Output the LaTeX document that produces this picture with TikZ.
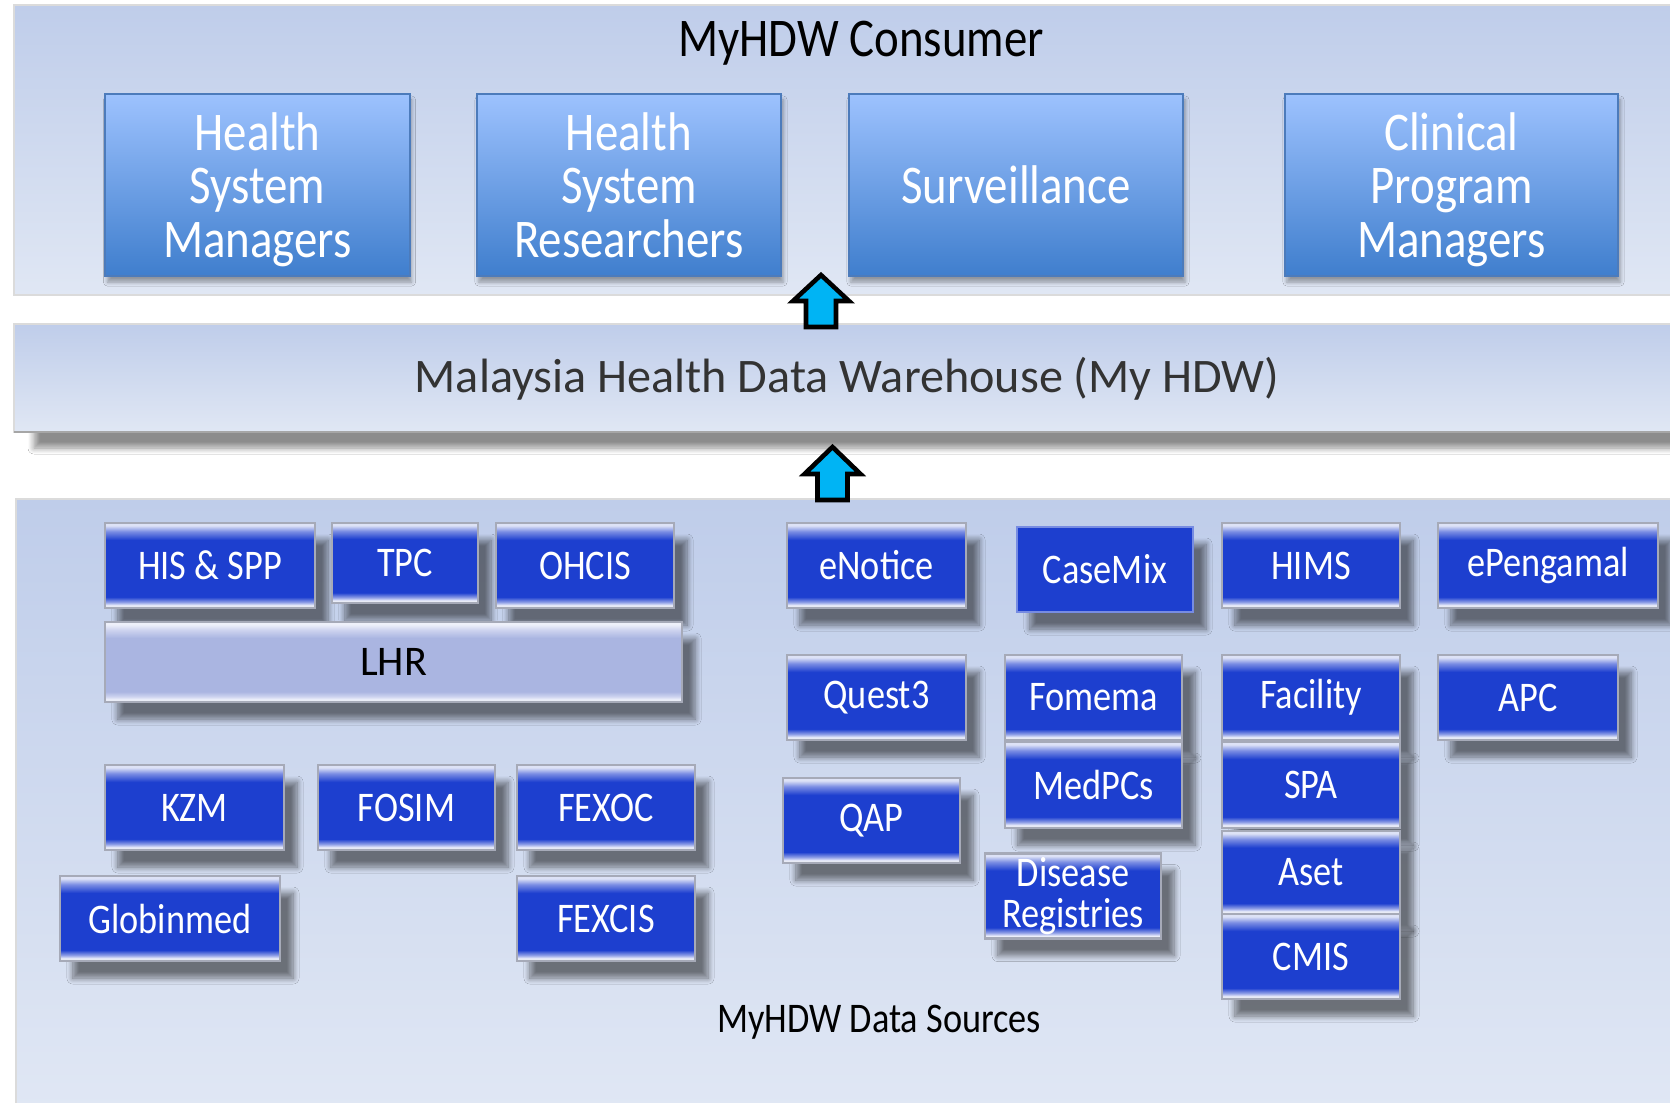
\documentclass[tikz,border=0pt]{standalone}
\usepackage{fontspec}
\setmainfont{Carlito}
\newfontfamily\gill{Carlito}[FakeStretch=0.86]
\usetikzlibrary{shadows.blur}

\definecolor{panelhi}{HTML}{BFCDEA}
\definecolor{panello}{HTML}{E0E7F4}
\definecolor{mgrhi}{HTML}{9DC2FE}
\definecolor{mgrlo}{HTML}{3F7ECD}
\definecolor{mgrline}{HTML}{4C7BBB}
\definecolor{btnblue}{HTML}{1D3FCF}
\definecolor{btnedge}{HTML}{A6AAB8}
\definecolor{glossedge}{HTML}{C3C8D8}
\definecolor{glossfoot}{HTML}{F0F2FB}
\definecolor{glosslow}{HTML}{8D9DE6}
\definecolor{glosshigh}{HTML}{7A8DE3}
\definecolor{glosstop}{HTML}{DDE2F6}
\definecolor{lhrfill}{HTML}{AAB5E1}
\definecolor{lhrlow}{HTML}{CDD3EF}
\definecolor{lhrtop}{HTML}{EEF0FA}
\definecolor{uparrow}{HTML}{00B4F4}

% glossy buttons: white sheen on top, thin light band at the foot
\pgfdeclareverticalshading{glossblue}{100bp}{%
  color(0bp)=(glossedge); color(25bp)=(glossedge);
  color(26.5bp)=(glossfoot); color(28.5bp)=(glosslow); color(31.5bp)=(btnblue);
  color(65bp)=(btnblue); color(70bp)=(glosshigh); color(73.5bp)=(glosstop);
  color(75bp)=(glosstop); color(100bp)=(glosstop)}
\pgfdeclareverticalshading{glosslav}{100bp}{%
  color(0bp)=(glossedge); color(25bp)=(glossedge);
  color(26.5bp)=(glossfoot); color(28.5bp)=(lhrlow); color(31.5bp)=(lhrfill);
  color(65bp)=(lhrfill); color(70bp)=(lhrlow); color(73.5bp)=(lhrtop);
  color(75bp)=(lhrtop); color(100bp)=(lhrtop)}

\begin{document}
\begin{tikzpicture}[x=0.01cm,y=-0.01cm,
  panel/.style={draw=black!14, line width=0.6pt, top color=panelhi, bottom color=panello},
  mgr/.style={draw=mgrline, line width=0.6pt, top color=mgrhi, bottom color=mgrlo,
    text=white, font=\gill\fontsize{15.5}{15.2}\selectfont, align=center, text depth=0pt,
    minimum width=3.04cm, minimum height=1.82cm,
    blur shadow={shadow xshift=0.02cm, shadow yshift=-0.06cm, shadow blur radius=0.04cm, shadow opacity=35}},
  btnbase/.style={line width=0.6pt, text=white, font=\gill\fontsize{12}{11.8}\selectfont,
    align=center, inner sep=1pt, minimum width=1.78cm, minimum height=0.85cm,
    blur shadow={shadow xshift=0.13cm, shadow yshift=-0.17cm, shadow blur radius=0.06cm,
      shadow blur steps=8, shadow opacity=50}},
  btn/.style={btnbase, draw=btnedge, shading=glossblue},
  flatbtn/.style={btnbase, draw=btnblue!60!white, fill=btnblue},
  lhr/.style={btnbase, draw=btnedge, shading=glosslav, text=black, font=\fontsize{12}{14}\selectfont},
  liftarrow/.style={draw=black, line width=1.3pt, fill=uparrow, line join=miter}]

\useasboundingbox (0,0) rectangle (1670,1102);
\fill[white] (0,0) rectangle (1670,1102);

% three layers
\draw[panel] (14,5) rectangle (1680,295);
\draw[panel, blur shadow={shadow xshift=0.2cm, shadow yshift=-0.16cm, shadow blur radius=0.06cm,
    shadow blur steps=8, shadow opacity=45}]
  (14,324) rectangle (1680,432);
\draw[black!35, line width=0.6pt] (14,432) -- (1680,432);
\draw[panel] (16,499) rectangle (1680,1110);

% consumers
\node[font=\gill\fontsize{15.5}{18}\selectfont] (consumer) at (861,43) {MyHDW Consumer};
\node[mgr] (hsm) at (257.5,185) {Health\\System\\Managers};
\node[mgr] (hsr) at (629,185) {Health\\System\\Researchers};
\node[mgr, minimum width=3.34cm] (surv) at (1016,185) {Surveillance};
\node[mgr, minimum width=3.33cm] (cpm) at (1451.5,185) {Clinical\\Program\\Managers};

% warehouse
\node[font=\fontsize{13.7}{16}\selectfont, text=black!80] (warehouse) at (847,379)
  {Malaysia Health Data Warehouse (My HDW)};

% arrows up between the layers
\coordinate (up1) at (821,327);
\coordinate (up2) at (832.5,500);
\draw[liftarrow] (up1) ++(-15,0) -- ++(0,-26) -- ++(-13,0) -- ++(28,-26) -- ++(28,26) -- ++(-13,0) -- ++(0,26) -- cycle;
\draw[liftarrow] (up2) ++(-15,0) -- ++(0,-26) -- ++(-13,0) -- ++(28,-27) -- ++(28,27) -- ++(-13,0) -- ++(0,26) -- cycle;

% data sources, left group
\node[btn, minimum width=2.10cm] (hisspp) at (210,565.5) {HIS \& SPP};
\node[btn, minimum width=1.46cm, minimum height=0.80cm] (tpc) at (405,563) {TPC};
\node[btn] (ohcis) at (585,565.5) {OHCIS};
\node[lhr, minimum width=5.77cm, minimum height=0.80cm] (lhr) at (393.5,662) {LHR};
\node[btn, minimum width=1.79cm] (kzm) at (194.5,807.5) {KZM};
\node[btn, minimum width=1.77cm] (fosim) at (406.5,807.5) {FOSIM};
\node[btn] (fexoc) at (606,807.5) {FEXOC};
\node[btn, minimum width=2.20cm] (globinmed) at (170,918.5) {Globinmed};
\node[btn] (fexcis) at (606,918.5) {FEXCIS};

% data sources, right group
\node[btn, minimum width=1.79cm] (enotice) at (876.5,565.5) {eNotice};
\node[flatbtn, minimum width=1.76cm] (casemix) at (1105,569.5) {CaseMix};
\node[btn] (hims) at (1311,565.5) {HIMS};
\node[btn, minimum width=2.20cm] (epengamal) at (1548,565.5) {ePengamal};
\node[btn, minimum width=1.79cm] (quest) at (876.5,697.5) {Quest3};
\node[btn, minimum width=1.77cm] (fomema) at (1093.5,697.5) {Fomema};
\node[btn] (facility) at (1311,697.5) {Facility};
\node[btn, minimum width=1.80cm] (apc) at (1528,697.5) {APC};
\node[btn, minimum width=1.77cm, minimum height=0.86cm] (medpcs) at (1093.5,785) {MedPCs};
\node[btn, minimum height=0.86cm] (spa) at (1311,785) {SPA};
\node[btn, minimum height=0.83cm] (aset) at (1311,872.5) {Aset};
\node[btn] (cmis) at (1311,956.5) {CMIS};
\node[btn, minimum width=1.77cm] (qap) at (871.5,820.5) {QAP};
\node[btn, minimum width=1.76cm] (disease) at (1073,896) {Disease\\Registries};

\node[font=\gill\fontsize{12}{14}\selectfont] (sources) at (879,1022) {MyHDW Data Sources};
\end{tikzpicture}
\end{document}
